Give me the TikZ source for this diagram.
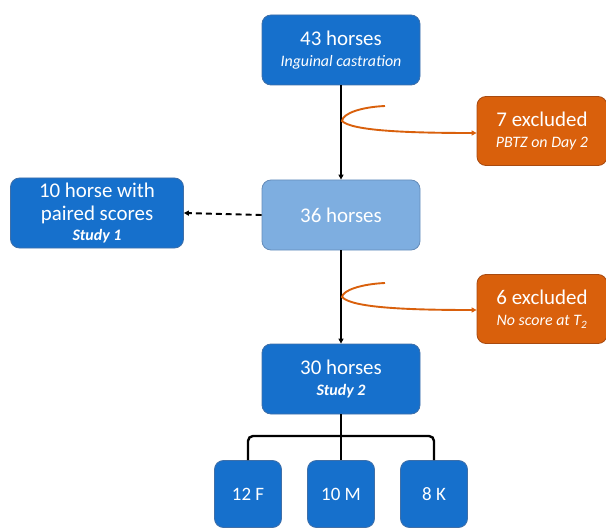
\documentclass[tikz,border=0pt]{standalone}
\usepackage{fontspec}
\setmainfont{Carlito}
\usetikzlibrary{arrows.meta}
\definecolor{bblue}{HTML}{1670CC}
\definecolor{bborder}{HTML}{3F6FA8}
\definecolor{lblue}{HTML}{7EAEE0}
\definecolor{orng}{HTML}{D9600C}
\definecolor{oborder}{HTML}{A84A10}
\tikzset{
  box/.style={draw=bborder, line width=0.8pt, fill=bblue, rounded corners=9pt, text=white, align=center, minimum width=158bp, minimum height=70bp, inner sep=0pt, font=\fontsize{21}{24}\selectfont},
  lbox/.style={box, fill=lblue, draw=bborder!80},
  obox/.style={box, fill=orng, draw=oborder, minimum width=130bp, minimum height=69bp},
  sbox/.style={box, minimum width=67bp, minimum height=67bp, font=\fontsize{19}{21}\selectfont},
  arr/.style={line width=1.9pt, -{Triangle[length=5pt,width=5pt]}},
  oarr/.style={draw=orng, line width=1.9pt, -{Triangle[length=5pt,width=5pt]}},
}
\newcommand{\subt}[1]{{\fontsize{16}{18}\selectfont\itshape #1}}
\begin{document}
\begin{tikzpicture}[x=1bp,y=-1bp]
\useasboundingbox (0,0) rectangle (606,528);
\node[box] (top) at (341,50) {43 horses\\[-3pt]\subt{Inguinal castration}};
\node[lbox] (mid) at (341,215) {36 horses};
\node[box, minimum width=173bp] (left) at (97,213) {10 horse with\\[-1pt]paired scores\\[-4pt]\subt{\bfseries Study 1}};
\node[obox] (o1) at (542,131) {7 excluded\\[-3pt]\subt{PBTZ on Day 2}};
\node[obox] (o2) at (542,309) {6 excluded\\[-3pt]\subt{No score at T\textsubscript{2}}};
\node[box] (s2) at (341,379) {30 horses\\[-3pt]\subt{\bfseries Study 2}};
\node[sbox] (f) at (248,494) {12 F};
\node[sbox] (m) at (341,494) {10 M};
\node[sbox] (k) at (434,494) {8 K};

\draw[arr] (top.south) -- (mid.north);
\draw[arr] (mid.south) -- (s2.north);
\draw[arr, dashed, dash pattern=on 6pt off 4pt] (mid.west) -- (left.east);

\coordinate (c1) at (385,106);
\coordinate (c2) at (385,283);
\draw[oarr] (c1) .. controls (362,107) and (343,113) .. (342,121) .. controls (352,131) and (410,133) .. (o1.west |- 0,133);
\draw[oarr] (c2) .. controls (362,284) and (343,290) .. (342,297) .. controls (352,308) and (410,310) .. (o2.west |- 0,310);

\coordinate (j) at (341,436);
\draw[line width=2.4pt, rounded corners=5pt] (s2.south) -- (j);
\draw[line width=2.4pt, rounded corners=5pt] (f.north) -- (f.north |- j) -- (k.north |- j) -- (k.north);
\draw[line width=2.4pt] (j) -- (m.north);
\end{tikzpicture}
\end{document}
